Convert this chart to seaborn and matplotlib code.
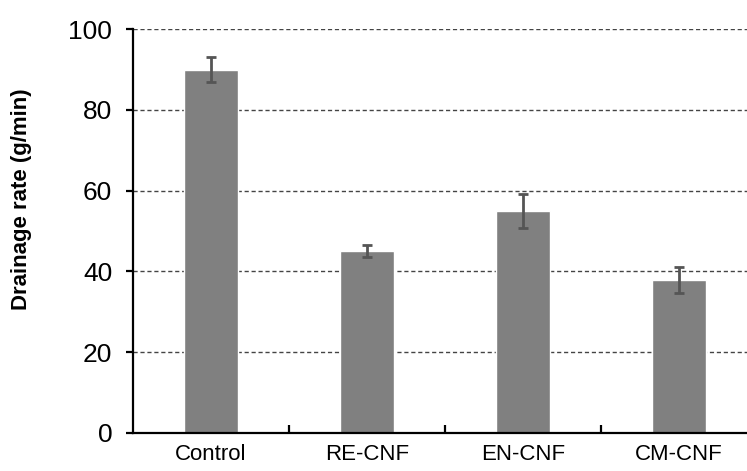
import pandas as pd
import seaborn as sns
import matplotlib.pyplot as plt
from matplotlib.ticker import FixedLocator

samples = ["Control", "RE-CNF", "EN-CNF", "CM-CNF"]
drainage = [90.0, 45.0, 55.0, 37.8]
errors = [3.2, 1.5, 4.2, 3.2]

df = pd.DataFrame({"sample": samples, "rate": drainage})

sns.set_theme(style="white")
plt.rcParams["font.family"] = ["Liberation Sans", "DejaVu Sans"]

fig = plt.figure(figsize=(7.47, 4.71), dpi=100)
ax = fig.add_axes([0.178, 0.081, 0.822, 0.857])

sns.barplot(data=df, x="sample", y="rate", color="#808080", saturation=1,
            width=0.35, errorbar=None, ax=ax)
ax.errorbar(range(len(samples)), drainage, yerr=errors, fmt="none",
            ecolor="#555555", elinewidth=2, capsize=3.5, capthick=2, zorder=4)

ax.set_ylim(0, 100)
ax.set_xlim(-0.5, 3.436)
ax.set_yticks([0, 20, 40, 60, 80, 100])
ax.yaxis.grid(True, linestyle=(0, (3, 2)), color="#444444", linewidth=1)
ax.set_axisbelow(True)

sns.despine(ax=ax)
for s in ["left", "bottom"]:
    ax.spines[s].set_color("black")
    ax.spines[s].set_linewidth(1.6)

ax.tick_params(axis="y", direction="out", length=5, width=1.6, color="black",
               labelsize=19, labelcolor="black", pad=10, left=True)
ax.tick_params(axis="x", which="major", length=0, labelsize=16,
               labelcolor="black", pad=8)
ax.xaxis.set_minor_locator(FixedLocator([0.5, 1.5, 2.5]))
ax.tick_params(axis="x", which="minor", direction="in", length=6, width=1.6,
               color="black", bottom=True)

ax.set_xlabel("")
ax.set_ylabel("Drainage rate (g/min)", fontsize=16, fontweight="bold",
              fontfamily="Liberation Sans", color="black")
ax.yaxis.set_label_coords(-0.165, 0.58)

fig.savefig("out.png", dpi=100)
